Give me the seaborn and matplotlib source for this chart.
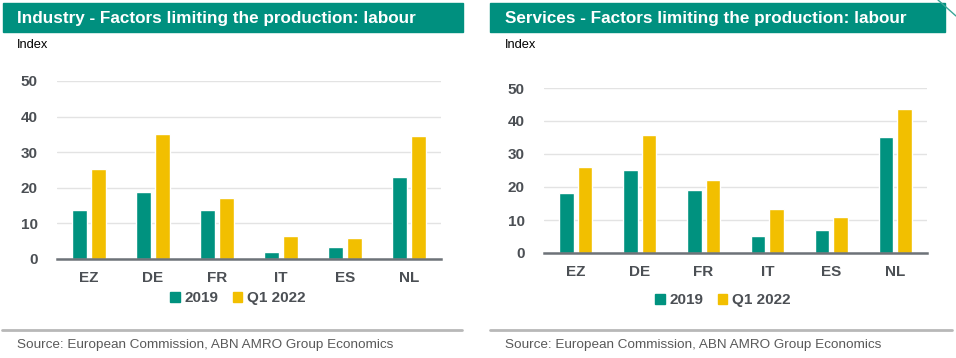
import numpy as np
import pandas as pd
import seaborn as sns
import matplotlib.pyplot as plt
from matplotlib.patches import Rectangle
from matplotlib.lines import Line2D

countries = ["EZ", "DE", "FR", "IT", "ES", "NL"]
series = ["2019", "Q1 2022"]
industry_2019 = [13.8, 18.9, 13.8, 2.1, 3.3, 22.9]
industry_q1_2022 = [25.2, 35.0, 17.0, 6.5, 6.0, 34.6]
services_2019 = [18.2, 25.1, 19.2, 5.1, 7.1, 35.3]
services_q1_2022 = [26.1, 35.8, 22.2, 13.2, 10.8, 43.6]

titles = ["Industry - Factors limiting the production: labour",
          "Services - Factors limiting the production: labour"]
source = "Source: European Commission, ABN AMRO Group Economics"

teal = "#00927f"
yellow = "#f2bf00"
tick_col = "#4b4f54"

sns.set_style("white")
plt.rcParams["font.family"] = ["Liberation Sans", "DejaVu Sans"]

W, H = 956, 358
fig = plt.figure(figsize=(W / 100, H / 100), dpi=100)


def px(x0, y0, x1, y1):
    # pixel box (top-left origin) -> figure fraction rect
    return [x0 / W, 1 - y1 / H, (x1 - x0) / W, (y1 - y0) / H]


panels = [
    dict(vals=(industry_2019, industry_q1_2022), ax=(57, 81, 441, 259),
         bar=(3, 463), tx=17, leg=(238, 298), line=(2, 462)),
    dict(vals=(services_2019, services_q1_2022), ax=(544, 88, 927, 253),
         bar=(490, 945), tx=505, leg=(723, 300), line=(490, 952)),
]

for i, p in enumerate(panels):
    df = pd.DataFrame({
        "country": countries * 2,
        "series": [series[0]] * 6 + [series[1]] * 6,
        "value": list(p["vals"][0]) + list(p["vals"][1]),
    })
    ax = fig.add_axes(px(*p["ax"]))
    sns.barplot(data=df, x="country", y="value", hue="series",
                palette=[teal, yellow], width=0.58, gap=0.22,
                saturation=1, ax=ax, legend=False)
    ax.set_ylim(0, 50)
    ax.set_xlim(-0.5, 5.5)
    ax.set_yticks(range(0, 51, 10))
    ax.set_xlabel("")
    ax.set_ylabel("")
    ax.yaxis.grid(True, color="#e3e3e3", lw=1)
    ax.set_axisbelow(True)
    for s in ["top", "right", "left"]:
        ax.spines[s].set_visible(False)
    ax.spines["bottom"].set_color("#6d7278")
    ax.spines["bottom"].set_linewidth(1.8)
    ax.set_xticks(np.arange(-0.5, 6, 1), minor=True)
    ax.tick_params(axis="x", which="minor", length=5, width=1.5, color="#6d7278")
    ax.tick_params(axis="x", which="major", length=0, pad=9)
    ax.tick_params(axis="y", length=0, pad=14)
    for lab in ax.get_xticklabels() + ax.get_yticklabels():
        lab.set_fontsize(11)
        lab.set_fontweight("bold")
        lab.set_color(tick_col)

    # title bar
    bx0, bx1 = p["bar"]
    fig.patches.append(Rectangle((bx0 / W, 1 - 32 / H), (bx1 - bx0) / W, 29 / H,
                                 transform=fig.transFigure, color="#00907f", zorder=0))
    fig.text(p["tx"] / W, 1 - 18 / H, titles[i], color="white", fontsize=12.3,
             fontweight="bold", va="center", ha="left")
    fig.text(p["tx"] / W, 1 - 45 / H, "Index", color="black", fontsize=9.3,
             va="center", ha="left")

    # legend
    handles = [Rectangle((0, 0), 1, 1, color=teal), Rectangle((0, 0), 1, 1, color=yellow)]
    lx, ly = p["leg"]
    fig.legend(handles, series, loc="center", bbox_to_anchor=(lx / W, 1 - ly / H),
               ncol=2, frameon=False, handlelength=0.65, handleheight=0.65,
               handletextpad=0.3, columnspacing=0.9,
               prop=dict(size=11, weight="bold"), labelcolor=tick_col)

    # source line + text
    l0, l1 = p["line"]
    fig.add_artist(Line2D([l0 / W, l1 / W], [1 - 330 / H, 1 - 330 / H],
                          transform=fig.transFigure, color="#b8b8b8", lw=2))
    fig.text(p["tx"] / W, 1 - 345 / H, source, color="#595959", fontsize=9.7,
             va="center", ha="left")

# thin stray line in the top right corner
fig.add_artist(Line2D([938 / W, 956 / W], [1.0, 1 - 16 / H],
                      transform=fig.transFigure, color="#3aa597", lw=1))

fig.savefig("out.png", dpi=100)
